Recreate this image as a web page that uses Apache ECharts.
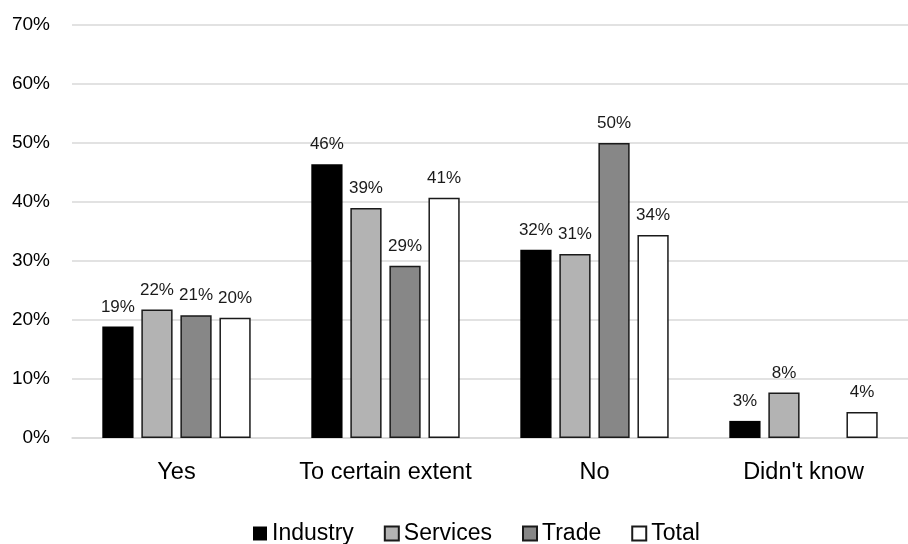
<!DOCTYPE html>
<html lang="en">
<head>
    <meta charset="UTF-8">
    <title>Survey bars</title>
    <script src="https://cdn.jsdelivr.net/npm/echarts@6/dist/echarts.min.js"></script>
    <style>
        html, body { margin: 0; padding: 0; background: #fff; }
        #chart { width: 908px; height: 544px; }
    </style>
</head>
<body>
    <div id="chart"></div>
<script>
    var categories = ['Yes', 'To certain extent', 'No', "Didn't know"];
    var industry = [18.9, 46.4, 31.9, 2.9];
    var services = [21.8, 39.0, 31.2, 7.7];
    var trade = [20.8, 29.2, 50.0, null];
    var total = [20.4, 40.7, 34.4, 4.4];
    var yTicks = [0, 10, 20, 30, 40, 50, 60, 70];

    var font = 'Liberation Sans, Arial, sans-serif';
    var chart = echarts.init(document.getElementById('chart'));

    function makeSeries(name, data, color, border) {
        return {
            name: name,
            type: 'bar',
            data: data,
            barGap: '25%',
            barCategoryGap: '29%',
            itemStyle: {
                color: color,
                borderColor: border ? '#1a1a1a' : color,
                borderWidth: border ? 1.5 : 0
            },
            label: {
                show: true,
                position: 'top',
                distance: 11,
                color: '#1a1a1a',
                fontFamily: font,
                fontSize: 17,
                formatter: function (p) {
                    return Math.round(p.value) + '%';
                }
            }
        };
    }

    var option = {
        animation: false,
        grid: { left: 72, right: 0, top: 25, bottom: 106 },
        legend: {
            bottom: -6,
            left: 248,
            itemWidth: 14,
            itemHeight: 14,
            itemGap: 30,
            icon: 'rect',
            textStyle: { fontFamily: font, fontSize: 23, color: '#000' },
            data: ['Industry', 'Services', 'Trade', 'Total']
        },
        xAxis: {
            type: 'category',
            data: categories,
            axisTick: { show: false },
            axisLine: { lineStyle: { color: '#d9d9d9', width: 1.5 } },
            axisLabel: { interval: 0, margin: 23, fontFamily: font, fontSize: 23.5, color: '#000' }
        },
        yAxis: {
            type: 'value',
            min: yTicks[0],
            max: yTicks[yTicks.length - 1],
            interval: 10,
            axisLine: { show: false },
            axisTick: { show: false },
            splitLine: { lineStyle: { color: '#d9d9d9', width: 1.5 } },
            axisLabel: {
                margin: 22,
                fontFamily: font,
                fontSize: 19,
                color: '#000',
                formatter: '{value}%'
            }
        },
        series: [
            makeSeries('Industry', industry, '#000000', false),
            makeSeries('Services', services, '#b3b3b3', true),
            makeSeries('Trade', trade, '#878787', true),
            makeSeries('Total', total, '#ffffff', true)
        ]
    };
    chart.setOption(option);
</script>
</body>
</html>
